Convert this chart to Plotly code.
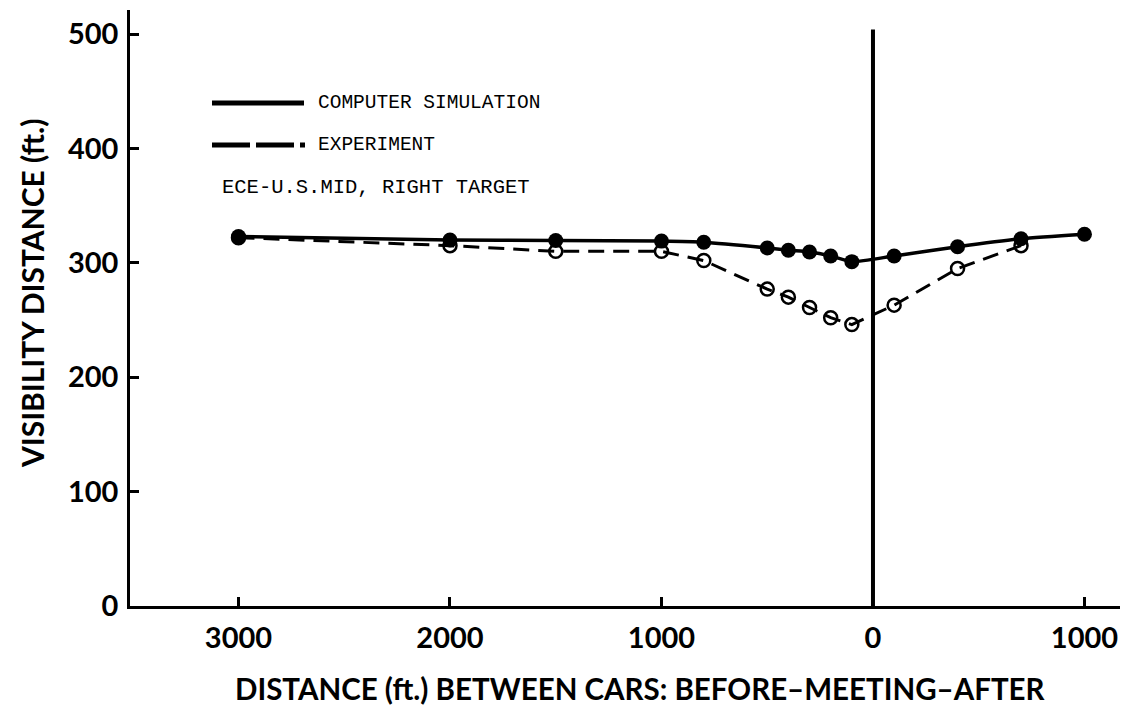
import plotly.graph_objects as go

# ---- data (negative distance = before meeting, positive = after meeting) ----
sim_distance = [-3000, -2000, -1500, -1000, -800, -500, -400, -300, -200, -100, 100, 400, 700, 1000]
sim_visibility = [323, 320, 319.5, 319, 318, 313, 311, 309.5, 306, 301, 306, 314, 321, 325]

exp_distance = [-3000, -2000, -1500, -1000, -800, -500, -400, -300, -200, -100, 100, 400, 700]
exp_visibility = [322, 315, 310, 310, 302, 277, 270, 261, 252, 246, 263, 295, 315]

x_tick_values = [-3000, -2000, -1000, 0, 1000]
x_tick_labels = ["3000", "2000", "1000", "0", "1000"]
y_tick_values = [0, 100, 200, 300, 400, 500]

meeting_x = 0
meeting_line_top = 504

legend_sim = "COMPUTER SIMULATION"
legend_exp = "EXPERIMENT"
condition_label = "ECE-U.S.MID, RIGHT TARGET"
x_title = "DISTANCE (ft.) BETWEEN CARS: BEFORE\u2013MEETING\u2013AFTER"
y_title = "VISIBILITY DISTANCE (ft.)"

W, H = 1129, 710
ML, MR, MT, MB = 130, 9, 10, 104
PW, PH = W - ML - MR, H - MT - MB


def px(xp):
    return (xp - ML) / PW


def py(yp):
    return (H - MB - yp) / PH


BOLD = dict(family="Lato, 'Open Sans', sans-serif", size=29, color="black", weight="bold")
MONO = dict(family="'Liberation Mono', 'Courier New', monospace", size=19.5, color="black")

fig = go.Figure()

fig.add_trace(go.Scatter(
    x=exp_distance, y=exp_visibility, mode="lines+markers",
    line=dict(color="black", width=3, dash="16px,9px"),
    marker=dict(symbol="circle-open", size=13, color="black", line=dict(width=2.5)),
    showlegend=False, hoverinfo="skip"))

fig.add_trace(go.Scatter(
    x=sim_distance, y=sim_visibility, mode="lines+markers",
    line=dict(color="black", width=3.5, shape="spline", smoothing=0.6),
    marker=dict(symbol="circle", size=15, color="black"),
    showlegend=False, hoverinfo="skip"))

# vertical meeting line
fig.add_shape(type="line", xref="x", yref="y", x0=meeting_x, x1=meeting_x,
              y0=0, y1=meeting_line_top, line=dict(color="black", width=4))

# legend samples
fig.add_shape(type="line", xref="paper", yref="paper", x0=px(212), x1=px(304),
              y0=py(103), y1=py(103), line=dict(color="black", width=5))
fig.add_shape(type="line", xref="paper", yref="paper", x0=px(212), x1=px(305),
              y0=py(145), y1=py(145), line=dict(color="black", width=5, dash="38px,6px"))

fig.add_annotation(x=px(316), y=py(103), xref="paper", yref="paper", text=legend_sim,
                   showarrow=False, xanchor="left", yanchor="middle", font=MONO)
fig.add_annotation(x=px(316), y=py(145), xref="paper", yref="paper", text=legend_exp,
                   showarrow=False, xanchor="left", yanchor="middle", font=MONO)
fig.add_annotation(x=px(220), y=py(187), xref="paper", yref="paper", text=condition_label,
                   showarrow=False, xanchor="left", yanchor="middle",
                   font=dict(MONO, size=20.5))

# axis titles
fig.add_annotation(x=px(640), y=py(688), xref="paper", yref="paper", text=x_title,
                   showarrow=False, xanchor="center", yanchor="middle", font=dict(BOLD, size=29.5))
fig.add_annotation(x=px(32), y=py(294), xref="paper", yref="paper", text=y_title,
                   showarrow=False, xanchor="center", yanchor="middle", textangle=-90,
                   font=dict(BOLD, size=30))

fig.update_xaxes(range=[-3513, 1168], tickvals=x_tick_values, ticktext=x_tick_labels,
                 showgrid=False, zeroline=False, showline=True, linecolor="black", linewidth=2.5,
                 ticks="inside", ticklen=9, tickwidth=3, tickcolor="black",
                 tickfont=BOLD, ticklabelstandoff=4)
fig.update_yaxes(range=[0, 521], tickvals=y_tick_values,
                 showgrid=False, zeroline=False, showline=True, linecolor="black", linewidth=2.5,
                 ticks="inside", ticklen=9, tickwidth=2.5, tickcolor="black",
                 tickfont=BOLD, ticklabelstandoff=3)

fig.update_layout(width=W, height=H, margin=dict(l=ML, r=MR, t=MT, b=MB),
                  paper_bgcolor="white", plot_bgcolor="white", showlegend=False)

fig.write_html("out.html")
